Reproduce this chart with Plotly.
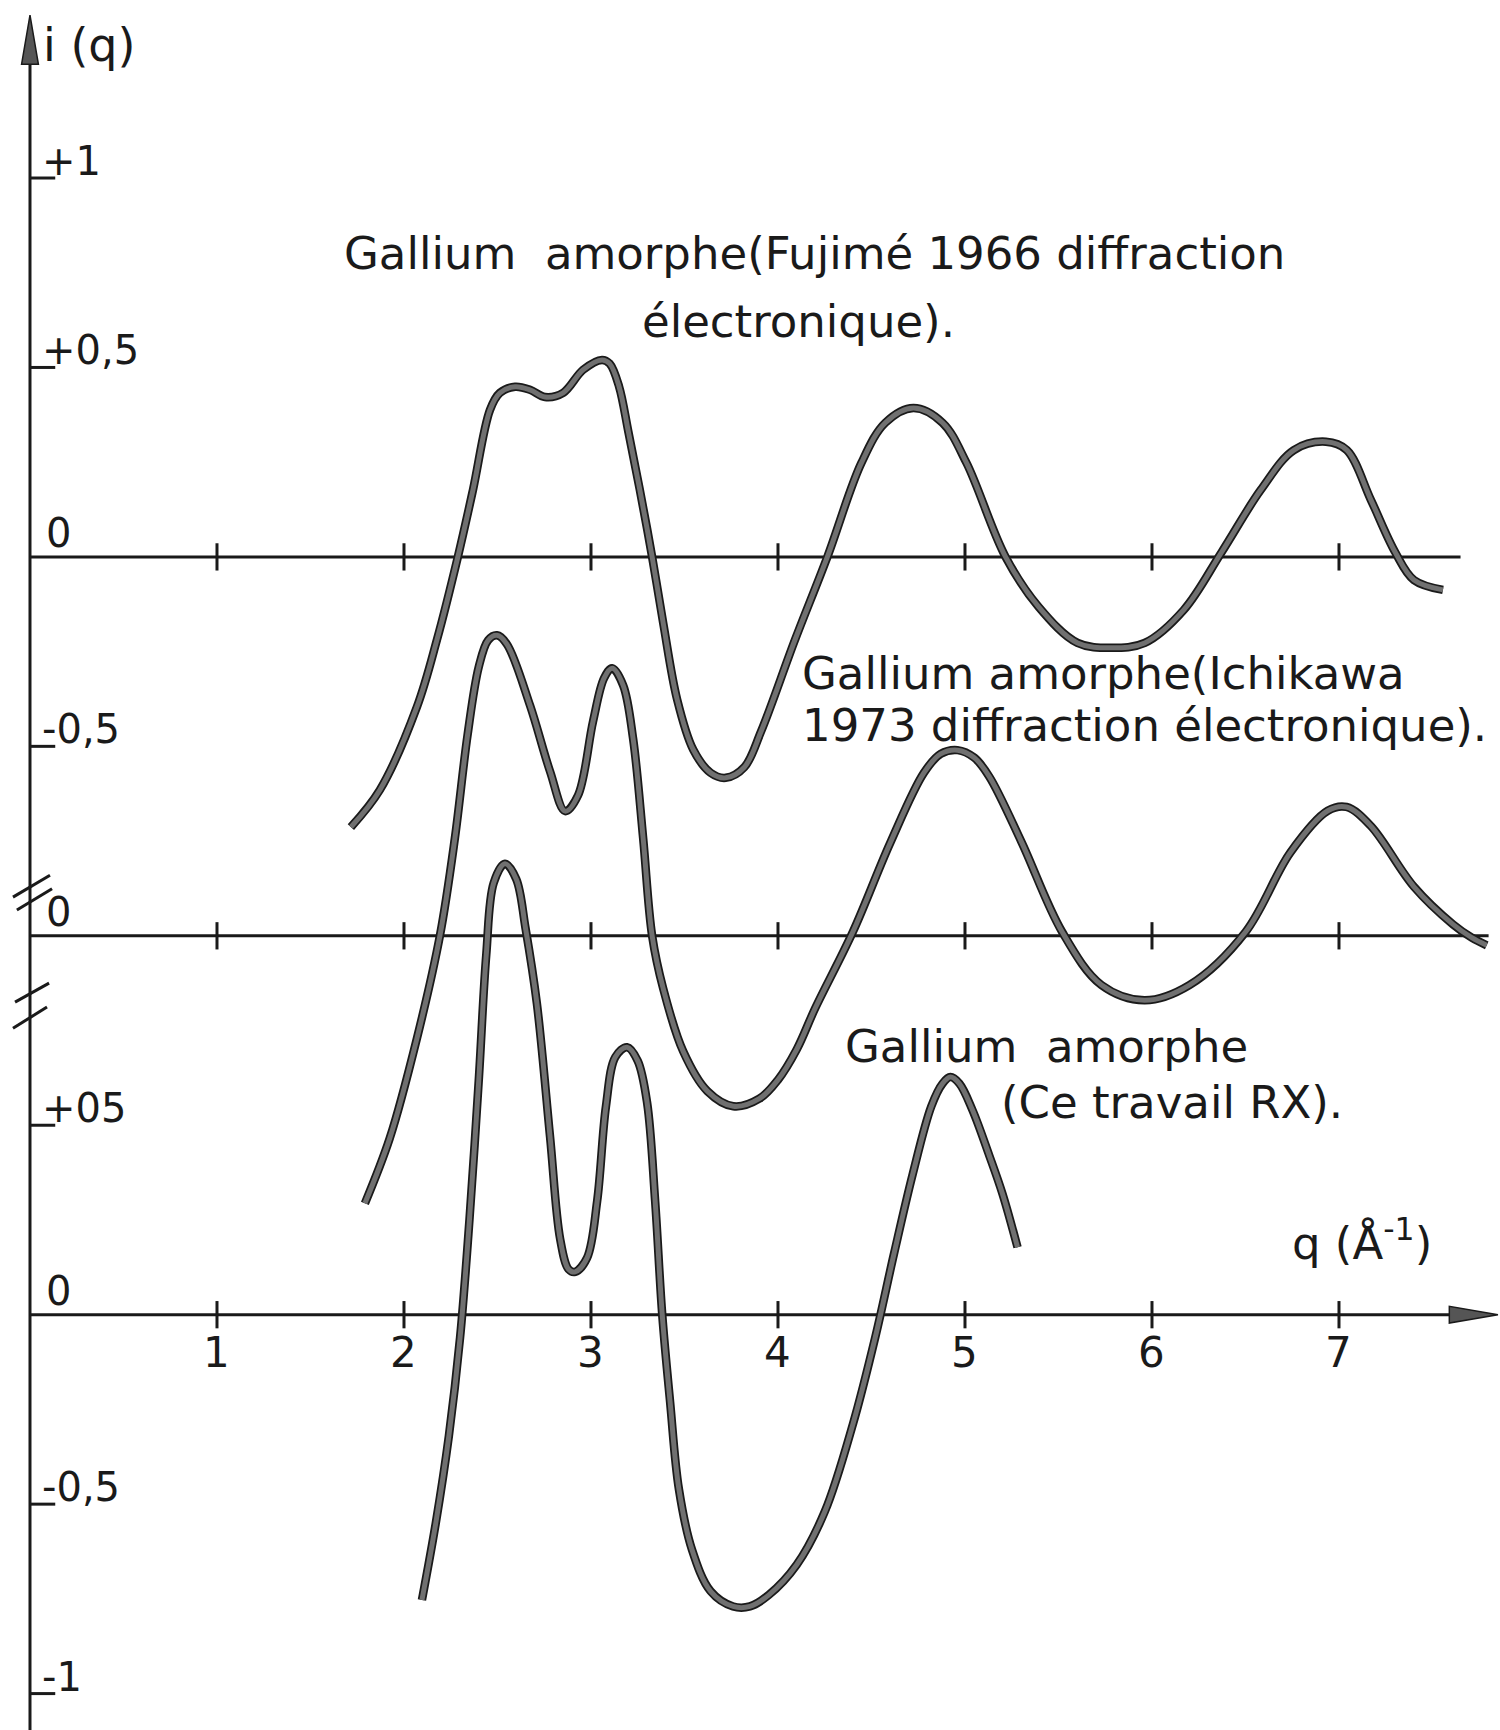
import plotly.graph_objects as go

# ---------------- data ----------------
# Gallium amorphe (Fujimé 1966, diffraction électronique) - drawn on baseline +2
q_fujime = [1.716, 1.871, 2.069, 2.176, 2.288, 2.369, 2.460, 2.513, 2.594, 2.674,
            2.754, 2.851, 2.958, 3.059, 3.100, 3.150, 3.200, 3.260, 3.327, 3.386,
            3.461, 3.547, 3.640, 3.720, 3.820, 3.910, 4.090, 4.264, 4.446, 4.574,
            4.724, 4.880, 5.008, 5.217, 5.394, 5.602, 5.784, 5.961, 6.170, 6.373,
            6.582, 6.759, 6.930, 7.042, 7.171, 7.300, 7.401, 7.556]
i_fujime = [-0.713, -0.615, -0.396, -0.219, 0.0, 0.177, 0.388, 0.433, 0.449, 0.441,
            0.422, 0.433, 0.494, 0.520, 0.510, 0.450, 0.330, 0.180, 0.0, -0.174,
            -0.377, -0.509, -0.570, -0.583, -0.555, -0.460, -0.220, 0.0, 0.248, 0.354,
            0.393, 0.354, 0.248, 0.0, -0.132, -0.227, -0.240, -0.227, -0.140, 0.013,
            0.177, 0.282, 0.304, 0.282, 0.150, 0.013, -0.061, -0.087]

# Gallium amorphe (Ichikawa 1973, diffraction électronique) - drawn on baseline +1
q_ichikawa = [1.791, 1.924, 2.069, 2.192, 2.272, 2.340, 2.400, 2.450, 2.497, 2.550,
              2.674, 2.781, 2.862, 2.931, 3.011, 3.070, 3.113, 3.172, 3.225, 3.279,
              3.327, 3.386, 3.493, 3.622, 3.761, 3.900, 4.000, 4.100, 4.200, 4.400,
              4.600, 4.780, 4.870, 4.960, 5.050, 5.130, 5.300, 5.520, 5.730, 5.960,
              6.200, 6.500, 6.740, 6.940, 7.040, 7.170, 7.400, 7.610, 7.710, 7.790]
i_ichikawa = [-0.706, -0.534, -0.271, 0.0, 0.257, 0.530, 0.710, 0.780, 0.793, 0.770,
              0.608, 0.434, 0.329, 0.371, 0.566, 0.680, 0.706, 0.661, 0.521, 0.257,
              0.0, -0.139, -0.305, -0.410, -0.450, -0.430, -0.380, -0.300, -0.190, 0.010,
              0.245, 0.430, 0.480, 0.490, 0.470, 0.420, 0.250, 0.010, -0.130, -0.170,
              -0.130, 0.010, 0.220, 0.330, 0.340, 0.290, 0.130, 0.030, -0.005, -0.025]

# Gallium amorphe (Ce travail RX) - drawn on baseline 0
q_rx = [2.096, 2.170, 2.240, 2.300, 2.350, 2.400, 2.440, 2.480, 2.540, 2.600,
        2.650, 2.711, 2.781, 2.835, 2.880, 2.915, 2.979, 3.033, 3.080, 3.130,
        3.193, 3.250, 3.300, 3.343, 3.381, 3.423, 3.470, 3.540, 3.640, 3.760,
        3.850, 3.950, 4.100, 4.250, 4.400, 4.520, 4.620, 4.720, 4.820, 4.880,
        4.922, 4.970, 5.040, 5.130, 5.200, 5.281]
i_rx = [-0.753, -0.550, -0.320, -0.060, 0.250, 0.620, 0.950, 1.140, 1.190, 1.150,
        1.020, 0.820, 0.470, 0.200, 0.120, 0.113, 0.150, 0.300, 0.550, 0.680,
        0.706, 0.670, 0.560, 0.300, 0.0, -0.230, -0.460, -0.620, -0.730, -0.770,
        -0.770, -0.740, -0.660, -0.520, -0.290, -0.060, 0.160, 0.370, 0.550, 0.610,
        0.627, 0.610, 0.540, 0.420, 0.320, 0.178]

offsets = [2, 1, 0]                       # vertical offset of each curve's zero line
baseline_ends = [7.65, 7.80, 7.60]        # where each zero line stops
x_ticks = [1, 2, 3, 4, 5, 6, 7]
x_tick_labels = ["1", "2", "3", "4", "5", "6", "7"]
y_tick_vals = [3, 2.5, 1.5, 0.5, -0.5, -1]
y_tick_text = ["+1", "+0,5", "-0,5", "+05", "-0,5", "-1"]
zero_label_vals = [2, 1, 0]

curve_labels = [
    ("Gallium  amorphe(Fujimé 1966 diffraction", 1.67, 2.80),
    ("électronique).", 3.26, 2.62),
    ("Gallium amorphe(Ichikawa", 4.12, 1.693),
    ("1973 diffraction électronique).", 4.12, 1.555),
    ("Gallium  amorphe", 4.35, 0.709),
    ("(Ce travail RX).", 5.18, 0.559),
]

# ---------------- figure ----------------
INK = "#1a1a1a"
GREY = "#707070"
FONT = "DejaVu Sans"

fig = go.Figure()
for qs, vals, off in [(q_fujime, i_fujime, offsets[0]),
                      (q_ichikawa, i_ichikawa, offsets[1]),
                      (q_rx, i_rx, offsets[2])]:
    ys = [v + off for v in vals]
    fig.add_trace(go.Scatter(x=qs, y=ys, mode="lines",
                             line=dict(color=INK, width=8.5, shape="spline", smoothing=1.0),
                             hoverinfo="skip", showlegend=False))
    fig.add_trace(go.Scatter(x=qs, y=ys, mode="lines",
                             line=dict(color=GREY, width=5, shape="spline", smoothing=1.0),
                             hoverinfo="skip", showlegend=False))

shapes = []
# vertical axis
shapes.append(dict(type="line", x0=0, x1=0, y0=-1.10, y1=3.33,
                   line=dict(color=INK, width=3), layer="below"))
shapes.append(dict(type="path", path="M 0,3.43 L -0.045,3.30 L 0.045,3.30 Z",
                   fillcolor="#555555", line=dict(color=INK, width=1.5), layer="below"))
# break marks on the vertical axis
for (x0, y0, x1, y1) in [(-0.091, 1.102, 0.107, 1.160), (-0.070, 1.068, 0.118, 1.124),
                         (-0.080, 0.825, 0.102, 0.875), (-0.091, 0.756, 0.091, 0.812)]:
    shapes.append(dict(type="line", x0=x0, y0=y0, x1=x1, y1=y1,
                       line=dict(color=INK, width=3), layer="below"))
# zero lines with ticks
for off, end in zip(offsets, baseline_ends):
    shapes.append(dict(type="line", x0=0, x1=end, y0=off, y1=off,
                       line=dict(color=INK, width=3), layer="below"))
    for t in x_ticks:
        shapes.append(dict(type="line", x0=t, x1=t, y0=off - 0.036, y1=off + 0.036,
                           line=dict(color=INK, width=3), layer="below"))
# q-axis arrow
shapes.append(dict(type="path", path="M 7.85,0 L 7.59,0.022 L 7.59,-0.022 Z",
                   fillcolor="#555555", line=dict(color=INK, width=1.5), layer="below"))
# y tick marks
for v in y_tick_vals:
    shapes.append(dict(type="line", x0=0, x1=0.135, y0=v, y1=v,
                       line=dict(color=INK, width=3), layer="below"))

annotations = []
for v, t in zip(y_tick_vals, y_tick_text):
    annotations.append(dict(x=0.055, y=v, text=t, showarrow=False, xanchor="left",
                            yanchor="bottom", yshift=-8,
                            font=dict(family=FONT, size=40, color=INK)))
for v in zero_label_vals:
    annotations.append(dict(x=0.075, y=v, text="0", showarrow=False, xanchor="left",
                            yanchor="bottom", yshift=-1,
                            font=dict(family=FONT, size=40, color=INK)))
for t, lab in zip(x_ticks, x_tick_labels):
    annotations.append(dict(x=t, y=0, text=lab, showarrow=False, xanchor="center",
                            yanchor="middle", yshift=-38,
                            font=dict(family=FONT, size=42, color=INK)))
for txt, x, y in curve_labels:
    annotations.append(dict(x=x, y=y, text=txt, showarrow=False, xanchor="left",
                            yanchor="middle",
                            font=dict(family=FONT, size=45, color=INK)))
annotations.append(dict(x=6.74, y=0.195, text="q (Å<sup>-1</sup>)", showarrow=False,
                        xanchor="left", yanchor="middle",
                        font=dict(family=FONT, size=45, color=INK)))
annotations.append(dict(x=0.06, y=3.35, text="i (q)", showarrow=False,
                        xanchor="left", yanchor="middle",
                        font=dict(family=FONT, size=46, color=INK)))

fig.update_layout(
    width=1500, height=1730,
    margin=dict(l=0, r=0, t=0, b=0),
    paper_bgcolor="white", plot_bgcolor="white",
    xaxis=dict(range=[-0.1604, 7.861], visible=False, showgrid=False, zeroline=False),
    yaxis=dict(range=[-1.0961, 3.4698], visible=False, showgrid=False, zeroline=False),
    shapes=shapes, annotations=annotations, showlegend=False,
)

fig.write_html("out.html")
